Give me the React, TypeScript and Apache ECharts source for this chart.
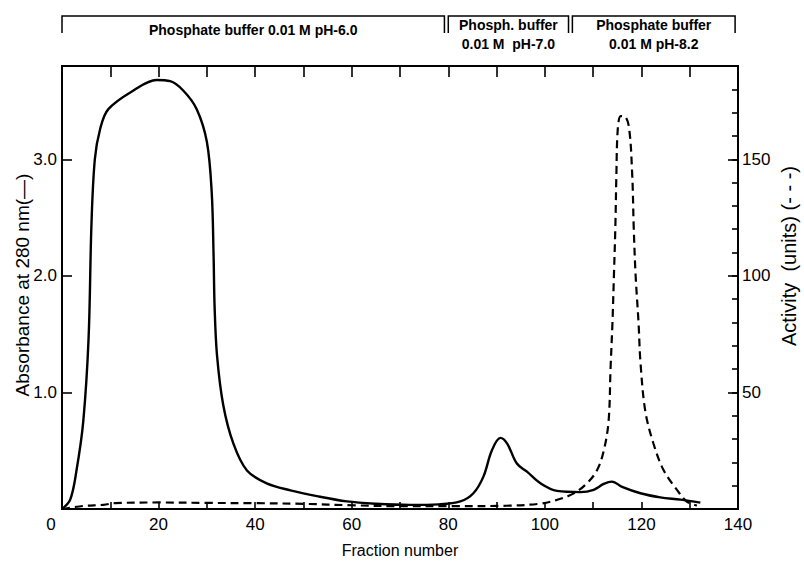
import React, { useEffect, useRef } from "react";
import * as echarts from "echarts";

// Absorbance at 280 nm (solid line): [fraction, absorbance]
const absorbance: [number, number][] = [
  [0, 0], [1.7, 0.08], [3, 0.33], [4.4, 0.75], [5.5, 1.46], [6.1, 2.44], [6.8, 3.0],
  [7.9, 3.26], [9.6, 3.43], [14.8, 3.59], [19.6, 3.68], [22.4, 3.67], [25.1, 3.59],
  [27.9, 3.43], [30, 3.15], [31, 2.72], [31.4, 2.16], [31.6, 1.74], [32.1, 1.32],
  [33.4, 0.89], [35.5, 0.56], [38.3, 0.33], [42.4, 0.22], [47.3, 0.16], [52.8, 0.11],
  [59, 0.065], [65, 0.045], [72, 0.035], [78, 0.04], [82.5, 0.065], [85.2, 0.135],
  [87.3, 0.28], [89, 0.5], [90.8, 0.61], [92.2, 0.56], [94.2, 0.39], [96.3, 0.32],
  [99.1, 0.22], [102.5, 0.155], [107.4, 0.145], [110.1, 0.165], [112.2, 0.215],
  [113.9, 0.235], [116, 0.19], [119.8, 0.135], [123.9, 0.1], [128.1, 0.08], [132.2, 0.055],
];

// Activity (dashed line): [fraction, units]
const activity: [number, number][] = [
  [0, 0], [4.4, 1.3], [8.6, 1.8], [11, 2.5], [20, 2.8], [30, 2.6], [40, 2.5], [50, 2.2],
  [60, 1.6], [70, 1.2], [80, 1.2], [92, 1.4], [99.1, 2.3], [102.5, 3.9], [106, 6.7],
  [108.7, 11], [110.8, 16.6], [112.2, 25], [113.2, 37.7], [113.6, 60], [114.0, 80],
  [114.3, 100], [114.6, 121], [114.8, 142], [115.1, 163], [115.7, 168.5], [116.4, 168.5],
  [117.4, 164], [118.1, 143], [118.4, 121], [118.8, 100], [119.4, 80], [119.8, 63],
  [120.8, 42], [122.5, 28], [124.6, 16.6], [127.4, 8.1], [129.4, 3.2], [131.5, 1.5],
];

// Buffer brackets along the top
const bufferStarts = [0, 80, 105.7];
const bufferEnds = [79.2, 104.9, 139.4];
const bufferLabels = [
  ["Phosphate buffer 0.01 M pH-6.0"],
  ["Phosph. buffer", "0.01 M  pH-7.0"],
  ["Phosphate buffer", "0.01 M pH-8.2"],
];

const xMin = 0;
const xMax = 140;
const yLeftMax = 3.8;
const yRightMax = 190;

const FONT = "Liberation Sans, Arial, sans-serif";

export default function App() {
  const ref = useRef<HTMLDivElement>(null);

  useEffect(() => {
    if (!ref.current) return;
    const chart = echarts.init(ref.current, undefined, { renderer: "svg" });
    const axisLine = { show: true, onZero: false, lineStyle: { color: "#000", width: 2 } };
    const tickStyle = { color: "#000", width: 1.6 };
    chart.setOption({
      animation: false,
      backgroundColor: "#fff",
      textStyle: { fontFamily: FONT },
      grid: {
        left: 62, right: 66, top: 66, bottom: 47,
        show: true, borderColor: "#000", borderWidth: 2, backgroundColor: "transparent",
      },
      xAxis: [
        {
          type: "value",
          min: xMin,
          max: xMax,
          interval: 10,
          position: "bottom",
          axisLine,
          axisTick: { inside: true, length: 7, lineStyle: tickStyle },
          splitLine: { show: false },
          axisLabel: {
            color: "#000",
            fontSize: 17,
            fontFamily: FONT,
            margin: 7,
            formatter: (v: number) => (v === 0 ? "{z|0}" : v % 20 === 0 ? String(v) : ""),
            rich: { z: { fontSize: 17, fontFamily: FONT, color: "#000", padding: [0, 22, 0, 0] } },
          },
          name: "Fraction number",
          nameLocation: "middle",
          nameGap: 33,
          nameTextStyle: { color: "#000", fontSize: 16, fontFamily: FONT },
        },
        {
          type: "value",
          min: xMin,
          max: xMax,
          interval: 10,
          position: "top",
          axisLine,
          axisTick: { inside: true, length: 11, lineStyle: tickStyle },
          axisLabel: { show: false },
          splitLine: { show: false },
        },
      ],
      yAxis: [
        {
          type: "value",
          min: 0,
          max: yLeftMax,
          interval: 1,
          position: "left",
          axisLine,
          axisTick: { inside: true, length: 10, lineStyle: tickStyle },
          splitLine: { show: false },
          axisLabel: {
            color: "#000",
            fontSize: 17,
            fontFamily: FONT,
            margin: 5,
            showMaxLabel: false,
            formatter: (v: number) => (v === 0 ? "" : v.toFixed(1)),
          },
        },
        {
          type: "value",
          min: 0,
          max: yRightMax,
          interval: 10,
          position: "right",
          axisLine,
          axisTick: { inside: true, length: 6, lineStyle: tickStyle },
          splitLine: { show: false },
          axisLabel: { show: false },
        },
        {
          type: "value",
          min: 0,
          max: yRightMax,
          interval: 50,
          position: "right",
          axisLine,
          axisTick: { inside: true, length: 10, lineStyle: tickStyle },
          splitLine: { show: false },
          axisLabel: {
            color: "#000",
            fontSize: 17,
            fontFamily: FONT,
            margin: 4,
            showMaxLabel: false,
            formatter: (v: number) => (v === 0 ? "" : String(v)),
          },
        },
      ],
      series: [
        {
          type: "line",
          name: "Absorbance",
          xAxisIndex: 0,
          yAxisIndex: 0,
          data: absorbance,
          smooth: 0.35,
          showSymbol: false,
          lineStyle: { color: "#000", width: 2.4, type: "solid" },
        },
        {
          type: "line",
          name: "Activity",
          xAxisIndex: 0,
          yAxisIndex: 1,
          data: activity,
          smooth: 0.35,
          showSymbol: false,
          lineStyle: { color: "#000", width: 2.2, type: [8, 5] },
        },
      ],
    });

    const px = (v: number) => chart.convertToPixel({ xAxisIndex: 0 }, v) as number;
    const graphics: any[] = [];
    const topY = 16;
    const endY = 33;
    bufferStarts.forEach((s, i) => {
      const x0 = px(s);
      const x1 = px(bufferEnds[i]);
      graphics.push({
        type: "polyline",
        shape: { points: [[x0, endY], [x0, topY], [x1, topY], [x1, endY]] },
        style: { stroke: "#000", lineWidth: 1.5, fill: "none" },
      });
      const lines = bufferLabels[i];
      const cx = (x0 + x1) / 2;
      lines.forEach((t, j) => {
        const y = lines.length === 1 ? 30 : 25 + j * 19;
        graphics.push({
          type: "text",
          x: cx,
          y,
          style: {
            text: t,
            fill: "#000",
            font: `bold 14px ${FONT}`,
            textAlign: "center",
            textVerticalAlign: "middle",
          },
        });
      });
    });
    graphics.push({
      type: "text",
      x: 22,
      y: 285,
      rotation: Math.PI / 2,
      style: {
        text: "Absorbance at 280 nm(—)",
        fill: "#000",
        font: `19px ${FONT}`,
        textAlign: "center",
        textVerticalAlign: "middle",
      },
    });
    graphics.push({
      type: "text",
      x: 789,
      y: 256,
      rotation: Math.PI / 2,
      style: {
        text: "Activity  (units) (- - -)",
        fill: "#000",
        font: `20px ${FONT}`,
        textAlign: "center",
        textVerticalAlign: "middle",
      },
    });
    chart.setOption({ graphic: graphics });

    return () => chart.dispose();
  }, []);

  return <div ref={ref} style={{ width: 804, height: 563, position: "absolute", left: 0, top: 0 }} />;
}
